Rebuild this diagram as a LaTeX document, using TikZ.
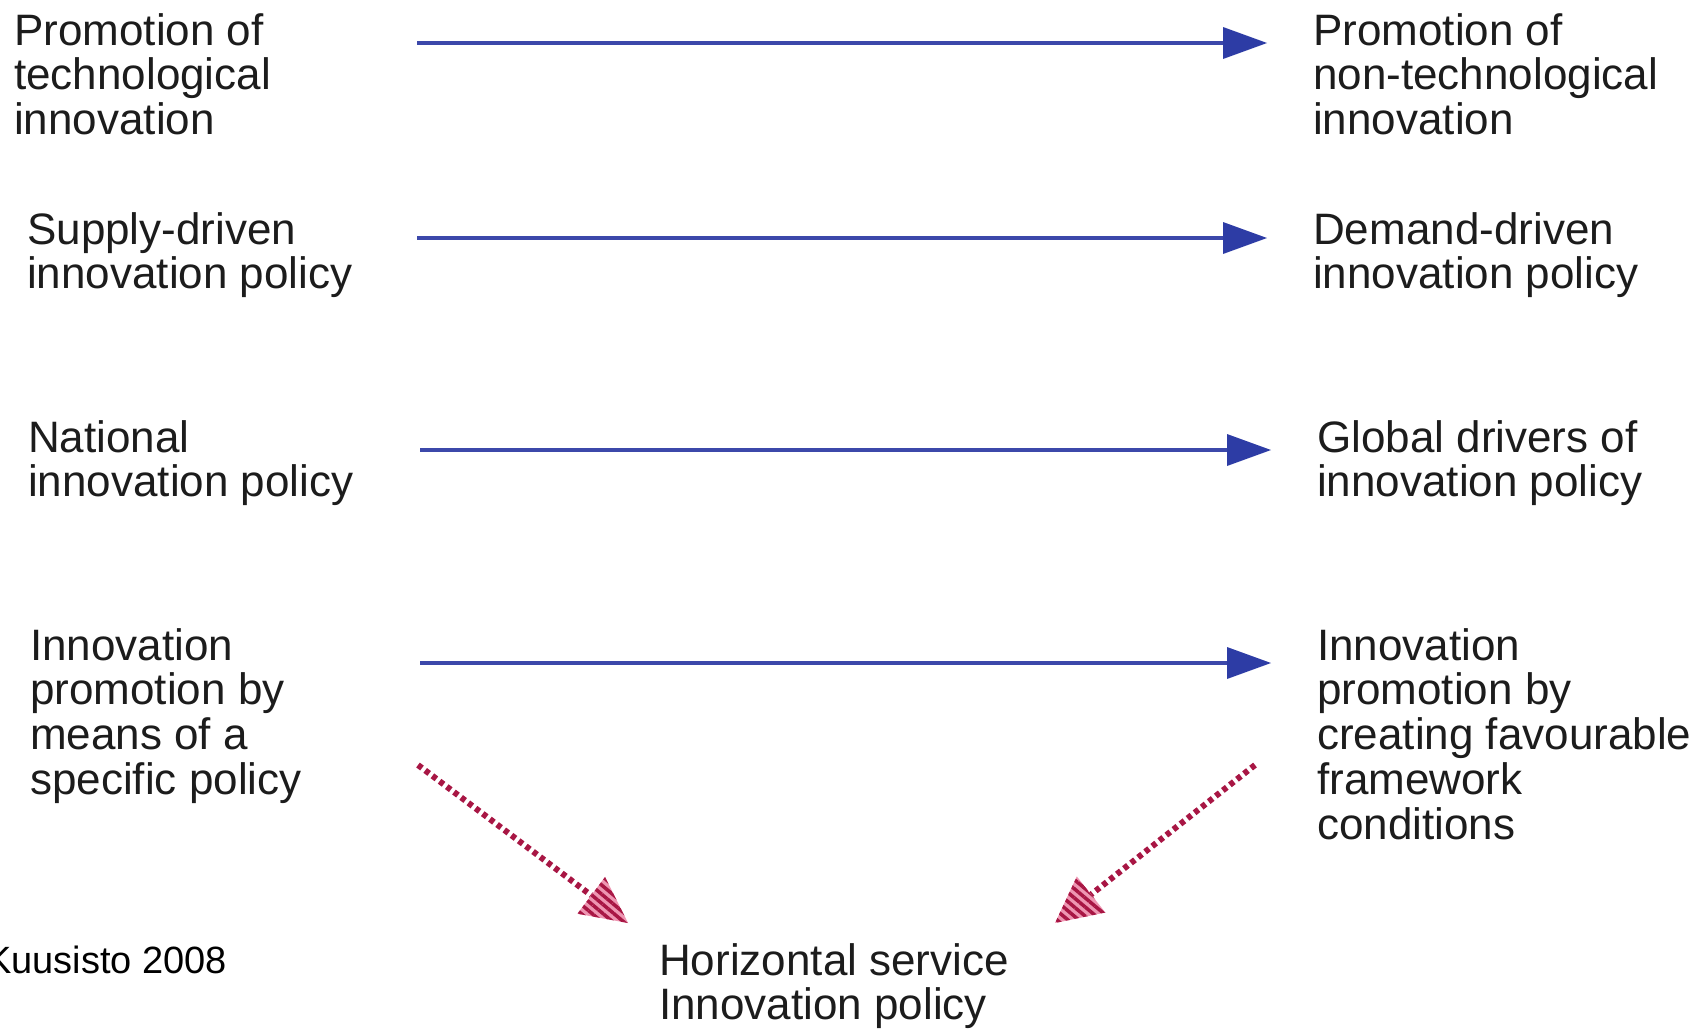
\documentclass[tikz,border=0pt]{standalone}
\usepackage{fontspec}
\setmainfont{Liberation Sans}
\usetikzlibrary{arrows.meta,calc,patterns.meta}

\definecolor{labelgray}{RGB}{28,28,28}
\definecolor{shiftblue}{RGB}{60,72,170}
\definecolor{tipblue}{RGB}{45,60,165}
\definecolor{mergered}{RGB}{168,22,68}
\definecolor{mergepink}{RGB}{238,150,178}

% multi-line label whose baseline is that of its first line
\newcommand{\mlines}[1]{\begin{tabular}[t]{@{}l@{}}#1\end{tabular}}

\tikzset{
  policytext/.style={anchor=base west, inner sep=0pt, text=labelgray,
    font=\fontsize{44}{43.5}\selectfont},
  shiftarrow/.style={draw=shiftblue, line width=4pt,
    -{Triangle[length=44pt,width=32pt,fill=tipblue,line width=0pt]}},
  mergeline/.style={draw=mergered, line width=6pt, dash pattern=on 5pt off 4pt},
  mergehead/.style={pattern={Lines[angle=-40,distance=7pt,line width=3.5pt]},
    pattern color=mergered},
}

\begin{document}
\begin{tikzpicture}[x=1pt,y=-1pt]
\useasboundingbox (0,0) rectangle (1697,1029);

% left column: traditional focus
\node[policytext] (l1) at (14,45)   {\mlines{Promotion of\\technological\\innovation}};
\node[policytext] (l2) at (27,244)  {\mlines{Supply-driven\\innovation policy}};
\node[policytext] (l3) at (28,452)  {\mlines{National\\innovation policy}};
\node[policytext] (l4) at (30,660)  {\mlines{Innovation\\promotion by\\means of a\\specific policy}};

% right column: new focus
\node[policytext] (r1) at (1313,45)  {\mlines{Promotion of\\non-technological\\innovation}};
\node[policytext] (r2) at (1313,244) {\mlines{Demand-driven\\innovation policy}};
\node[policytext] (r3) at (1317,452) {\mlines{Global drivers of\\innovation policy}};
\node[policytext] (r4) at (1317,660) {\mlines{Innovation\\promotion by\\creating favourable\\framework\\conditions}};

% outcome
\node[policytext] (hz) at (659,975) {\mlines{Horizontal service\\Innovation policy}};

% source
\node[anchor=base west, inner sep=0pt, text=black,
      font=\fontsize{38}{38}\selectfont] (src) at (-14,973) {Kuusisto 2008};

% horizontal shift arrows
\coordinate (a1s) at (417,43);  \coordinate (a1e) at (1267,43);
\coordinate (a2s) at (417,238); \coordinate (a2e) at (1267,238);
\coordinate (a3s) at (420,450); \coordinate (a3e) at (1271,450);
\coordinate (a4s) at (420,663); \coordinate (a4e) at (1271,663);
\draw[shiftarrow] (a1s) -- (a1e);
\draw[shiftarrow] (a2s) -- (a2e);
\draw[shiftarrow] (a3s) -- (a3e);
\draw[shiftarrow] (a4s) -- (a4e);

% converging arrows towards the horizontal policy
\coordinate (ms1) at (418,765);  \coordinate (mt1) at (628,923);
\coordinate (ms2) at (1255,765); \coordinate (mt2) at (1055,923);

\foreach \s/\t in {ms1/mt1, ms2/mt2}{
  \coordinate (b) at ($(\t)!46pt!(\s)$);
  \coordinate (b1) at ($(b)!23pt!90:(\t)$);
  \coordinate (b2) at ($(b)!23pt!-90:(\t)$);
  \draw[mergeline] (\s) -- (b);
  \fill[mergepink] (\t) -- (b1) -- (b2) -- cycle;
  \fill[mergehead] (\t) -- (b1) -- (b2) -- cycle;
}
\end{tikzpicture}
\end{document}
